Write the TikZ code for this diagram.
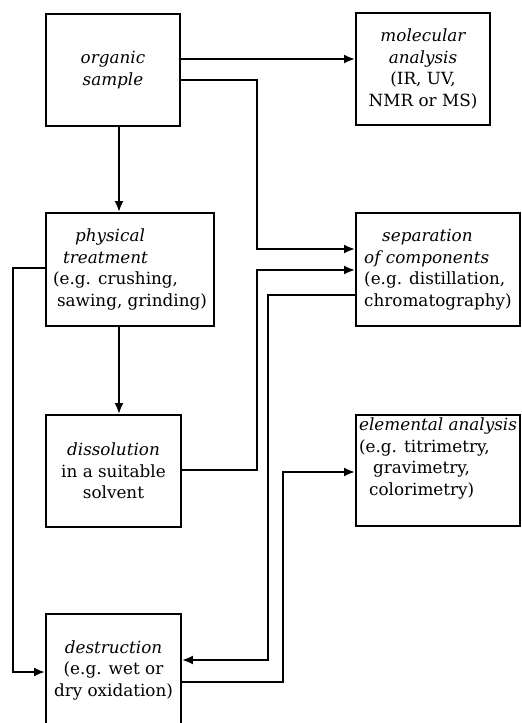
\documentclass[tikz,border=0pt]{standalone}
\usepackage{fontspec}
\setmainfont{DejaVu Serif}
\usetikzlibrary{arrows.meta}
\tikzset{
  box/.style={draw, line width=1.8pt, inner sep=0pt, align=center,
    font=\fontsize{16.8}{21.5}\selectfont},
  lbox/.style={box, align=left},
  arr/.style={line width=2.8pt, -{Latex[length=11pt,width=9pt]}},
}
\begin{document}
\begin{tikzpicture}[x=1pt,y=-1pt]
\useasboundingbox (0,0) rectangle (522,723);
\clip (0,0) rectangle (522,723);
% boxes
\node[box, minimum width=134pt, minimum height=112pt] (org) at (113,70)
  {\itshape organic\\ \itshape sample};
\node[box, minimum width=134pt, minimum height=112pt] (mol) at (423,69)
  {\itshape molecular\\ \itshape analysis\\ (IR, UV,\\ NMR or MS)};
\node[lbox, minimum width=168pt, minimum height=113pt] (phys) at (130,269.5)
  {\hspace*{22pt}\itshape physical\\ \hspace*{10pt}\itshape treatment\\ (e.g. crushing,\\ \hspace*{4pt}sawing, grinding)};
\node[lbox, minimum width=164pt, minimum height=113pt] (sep) at (438,269.5)
  {\hspace*{18pt}\itshape separation\\ \itshape of components\\ (e.g. distillation,\\ chromatography)};
\node[box, minimum width=135pt, minimum height=112pt] (diss) at (113.5,471)
  {\itshape dissolution\\ in a suitable\\ solvent};
\node[lbox, minimum width=164pt, minimum height=111pt] (elem) at (438,470.5)
  {\itshape elemental analysis\\ (e.g. titrimetry,\\ \hspace*{14pt}gravimetry,\\ \hspace*{10pt}colorimetry)\\[6pt]};
\node[box, minimum width=135pt, minimum height=112pt] (des) at (113.5,670)
  {\itshape destruction\\ (e.g. wet or\\ dry oxidation)};
% connectors
\draw[arr] (org.east |- 0,59) -- (mol.west |- 0,59);
\draw[arr] (org.east |- 0,80) -| (257,249) -- (sep.west |- 0,249);
\draw[arr] (org.south -| 119,0) -- (phys.north -| 119,0);
\draw[arr] (phys.west |- 0,268) -| (13,672) -- (des.west |- 0,672);
\draw[arr] (phys.south -| 119,0) -- (diss.north -| 119,0);
\draw[arr] (diss.east |- 0,470) -| (257,270) -- (sep.west |- 0,270);
\draw[arr] (sep.west |- 0,295) -| (268,660) -- (des.east |- 0,660);
\draw[arr] (des.east |- 0,682) -| (283,472) -- (elem.west |- 0,472);
\end{tikzpicture}
\end{document}
